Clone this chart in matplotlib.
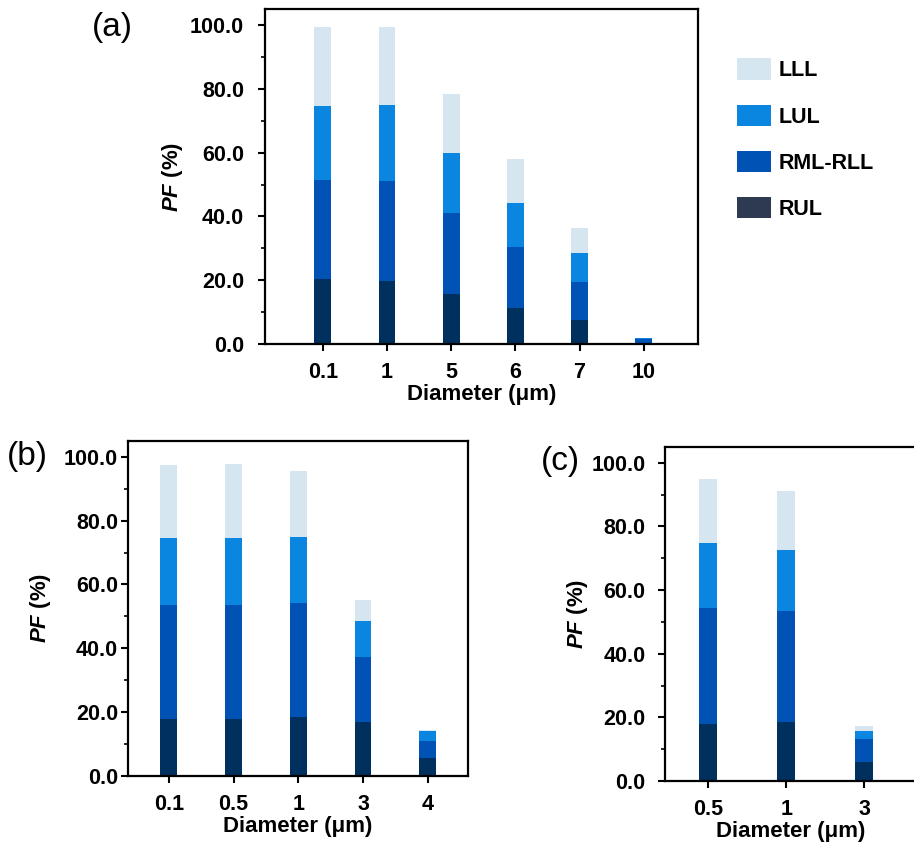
import numpy as np
import matplotlib.pyplot as plt
from matplotlib.ticker import MultipleLocator
from matplotlib.patches import Patch

plt.rcParams['font.family'] = ['Liberation Sans', 'DejaVu Sans']
plt.rcParams['mathtext.fontset'] = 'custom'
plt.rcParams['mathtext.bfit'] = 'Liberation Sans:bold:italic'

# %%
# Data (segment heights, stacked bottom -> top)
layers = ["RUL", "RML-RLL", "LUL", "LLL"]
colors = ["#00305e", "#0052b4", "#0a86e0", "#d5e6f1"]
legend_colors = {"LLL": "#d5e6f1", "LUL": "#0a86e0", "RML-RLL": "#0052b4", "RUL": "#2e3a52"}

a_labels = ["0.1", "1", "5", "6", "7", "10"]
a_rul = [20.4, 19.8, 15.7, 11.2, 7.4, 0.0]
a_rml = [31.0, 31.2, 25.5, 19.1, 11.9, 1.5]
a_lul = [23.2, 24.1, 18.6, 14.0, 9.3, 0.4]
a_lll = [24.9, 24.4, 18.5, 13.7, 7.9, 0.0]

b_labels = ["0.1", "0.5", "1", "3", "4"]
b_rul = [17.8, 17.8, 18.6, 17.0, 5.7]
b_rml = [35.7, 35.7, 35.6, 20.2, 5.3]
b_lul = [21.0, 21.0, 20.7, 11.4, 3.1]
b_lll = [22.9, 23.3, 20.6, 6.4, 0.4]

c_labels = ["0.5", "1", "3"]
c_rul = [18.0, 18.6, 6.0]
c_rml = [36.5, 34.7, 7.2]
c_lul = [20.2, 19.2, 2.5]
c_lll = [20.3, 18.5, 1.5]


# %%
def stacked(ax, labels, series, width, xlim, tag, tag_xy, ypad, ylpad):
    x = np.arange(len(labels))
    bottom = np.zeros(len(labels))
    for vals, col in zip(series, colors):
        ax.bar(x, vals, width, bottom=bottom, color=col, linewidth=0)
        bottom += np.array(vals)
    ax.set_xlim(*xlim)
    ax.set_ylim(0, 105)
    ax.set_xticks(x)
    ax.set_xticklabels(labels, fontsize=15.5, fontweight='bold')
    ax.yaxis.set_minor_locator(MultipleLocator(10))
    ax.set_yticks(np.arange(0, 101, 20))
    ax.set_yticklabels([f"{v:.1f}" for v in np.arange(0, 101, 20)], fontsize=15.5, fontweight='bold')
    ax.tick_params(which='major', direction='out', length=5, width=1.5)
    ax.tick_params(axis='x', which='major', pad=8)
    ax.tick_params(axis='y', which='major', pad=ypad)
    ax.tick_params(which='minor', direction='out', length=3, width=1.2)
    for s in ax.spines.values():
        s.set_linewidth(1.6)
    ax.set_xlabel("Diameter (μm)", fontsize=16, fontweight='bold', labelpad=1)
    ax.set_ylabel(r"$\boldsymbol{PF}$ (%)", fontsize=16, fontweight='bold', labelpad=ylpad)
    ax.figure.text(tag_xy[0], tag_xy[1], tag, fontsize=24, va='center', ha='left')


fig = plt.figure(figsize=(9.14, 8.47), dpi=100)

ax_a = fig.add_axes([0.290, 0.594, 0.474, 0.395])
stacked(ax_a, a_labels, [a_rul, a_rml, a_lul, a_lll], 0.26, (-0.9, 5.85),
        "(a)", (0.101, 0.967), ypad=10, ylpad=4)

ax_b = fig.add_axes([0.140, 0.084, 0.372, 0.3955])
stacked(ax_b, b_labels, [b_rul, b_rml, b_lul, b_lll], 0.26, (-0.63, 4.62),
        "(b)", (0.008, 0.461), ypad=2, ylpad=8)

ax_c = fig.add_axes([0.7276, 0.078, 0.2744, 0.3943])
stacked(ax_c, c_labels, [c_rul, c_rml, c_lul, c_lll], 0.23, (-0.55, 2.66),
        "(c)", (0.592, 0.455), ypad=9, ylpad=1)

# legend on the right of panel (a)
names = ["LLL", "LUL", "RML-RLL", "RUL"]
handles = [Patch(facecolor=legend_colors[k], edgecolor='none') for k in names]
fig.legend(handles, names, loc='upper left',
           bbox_to_anchor=(0.806, 0.931), frameon=False, borderpad=0,
           borderaxespad=0, handlelength=1.58, handleheight=1.16,
           labelspacing=1.07, handletextpad=0.38,
           prop={'size': 15.5, 'weight': 'bold'})

fig.savefig("out.png", dpi=100)
